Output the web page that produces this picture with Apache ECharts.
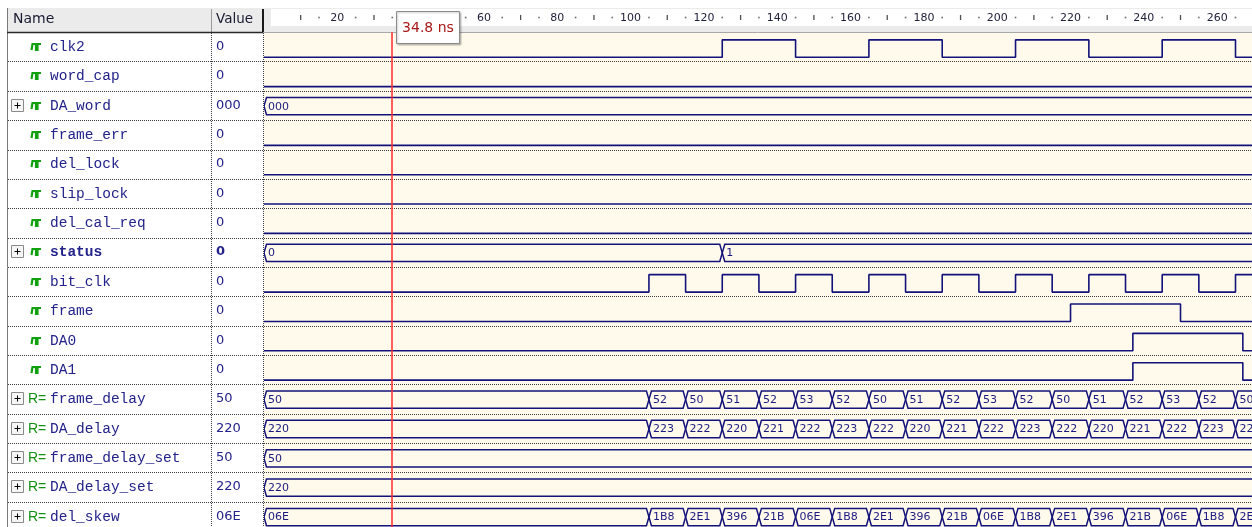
<!DOCTYPE html>
<html>
<head>
<meta charset="utf-8">
<title>Waveform</title>
<script src="https://cdn.jsdelivr.net/npm/echarts@6.0.0/dist/echarts.min.js"></script>
<style>
  html, body { margin: 0; padding: 0; background: #ffffff; }
  #chart { width: 1252px; height: 527px; }
</style>
</head>
<body>
<div id="chart"></div>
<script>
// signal list, top to bottom
const signalNames = ['clk2', 'word_cap', 'DA_word', 'frame_err', 'del_lock', 'slip_lock', 'del_cal_req', 'status',
  'bit_clk', 'frame', 'DA0', 'DA1', 'frame_delay', 'DA_delay', 'frame_delay_set', 'DA_delay_set', 'del_skew']
const signalKinds = ['bit', 'bit', 'bus', 'bit', 'bit', 'bit', 'bit', 'bus',
  'bit', 'bit', 'bit', 'bit', 'reg', 'reg', 'reg', 'reg', 'reg']
const cursorValues = ['0', '0', '000', '0', '0', '0', '0', '0', '0', '0', '0', '0', '50', '220', '50', '220', '06E']

// single-bit signals: all start low, each entry is a toggle time in ns
const clk2Edges = [125, 145, 165, 185, 205, 225, 245, 265]
const bitClkEdges = [105, 115, 125, 135, 145, 155, 165, 175, 185, 195, 205, 215, 225, 235, 245, 255, 265]
const frameEdges = [220, 250]
const da0Edges = [237, 267]
const da1Edges = [237, 267]
const quietEdges = []

// buses: change times (ns) and the value shown from each time on
const daWordTimes = [0]
const daWordVals = ['000']
const statusTimes = [0, 125]
const statusVals = ['0', '1']
const delayTimes = [0, 105, 115, 125, 135, 145, 155, 165, 175, 185, 195, 205, 215, 225, 235, 245, 255, 265]
const frameDelayVals = ['50', '52', '50', '51', '52', '53', '52', '50', '51', '52', '53', '52', '50', '51', '52', '53', '52', '50']
const daDelayVals = ['220', '223', '222', '220', '221', '222', '223', '222', '220', '221', '222', '223', '222', '220', '221', '222', '223', '222']
const delSkewVals = ['06E', '1B8', '2E1', '396', '21B', '06E', '1B8', '2E1', '396', '21B', '06E', '1B8', '2E1', '396', '21B', '06E', '1B8', '2E1']
const frameDelaySetTimes = [0]
const frameDelaySetVals = ['50']
const daDelaySetTimes = [0]
const daDelaySetVals = ['220']

// time ruler marks (ns)
const rulerTicks = [10, 30, 50, 70, 90, 110, 130, 150, 170, 190, 210, 230, 250]
const rulerDots = [15, 25, 35, 45, 55, 65, 75, 85, 95, 105, 115, 125, 135, 145, 155, 165, 175, 185, 195, 205, 215, 225, 235, 245, 255, 265]
const cursorTime = 34.8

const T_MAX = 269.5
const T_END = 300
const ROW_TOP = 32.35
const ROW_H = 29.35
const Y_MAX = (527 - ROW_TOP) / ROW_H
const HI = 0.255
const LO = 0.85
const BUS_T = 0.22
const BUS_B = 0.81
const WAVE = '#12127a'
const TEXT = '#22228a'

const bitTraces = [
  { row: 0, edges: clk2Edges },
  { row: 1, edges: quietEdges },
  { row: 3, edges: quietEdges },
  { row: 4, edges: quietEdges },
  { row: 5, edges: quietEdges },
  { row: 6, edges: quietEdges },
  { row: 8, edges: bitClkEdges },
  { row: 9, edges: frameEdges },
  { row: 10, edges: da0Edges },
  { row: 11, edges: da1Edges },
]

const busTraces = [
  { row: 2, times: daWordTimes, vals: daWordVals },
  { row: 7, times: statusTimes, vals: statusVals },
  { row: 12, times: delayTimes, vals: frameDelayVals },
  { row: 13, times: delayTimes, vals: daDelayVals },
  { row: 14, times: frameDelaySetTimes, vals: frameDelaySetVals },
  { row: 15, times: daDelaySetTimes, vals: daDelaySetVals },
  { row: 16, times: delayTimes, vals: delSkewVals },
]

const stepPoints = (row, edges) => {
  let level = 0
  const pts = [[0, row + LO]]
  edges.forEach((t) => {
    level = 1 - level
    pts.push([t, row + (level ? HI : LO)])
  })
  pts.push([T_MAX, row + (level ? HI : LO)])
  return pts
}

const busSegments = []
const busLabels = []
busTraces.forEach((bus) => {
  bus.times.forEach((t, i) => {
    const end = i + 1 < bus.times.length ? bus.times[i + 1] : T_END
    busSegments.push([t, end, bus.row])
    busLabels.push(bus.vals[i])
  })
})

const renderBus = (params, api) => {
  const t0 = api.value(0)
  const t1 = api.value(1)
  const row = api.value(2)
  const a = api.coord([t0, row + BUS_T])
  const b = api.coord([t1, row + BUS_B])
  const s = 2.5
  const yt = a[1]
  const yb = b[1]
  const ym = (yt + yb) / 2
  return {
    type: 'group',
    children: [
      {
        type: 'polygon',
        shape: { points: [[a[0], ym], [a[0] + s, yt], [b[0] - s, yt], [b[0], ym], [b[0] - s, yb], [a[0] + s, yb]] },
        style: { fill: 'none', stroke: WAVE, lineWidth: 1.5 },
      },
      {
        type: 'text',
        style: {
          x: a[0] + s + 1.5,
          y: ym + 0.5,
          text: busLabels[params.dataIndex],
          fill: '#1a1a80',
          font: '11px "DejaVu Sans"',
          verticalAlign: 'middle',
          align: 'left',
        },
      },
    ],
  }
}

const renderName = (params, api) => {
  const i = params.dataIndex
  const p = api.coord([0, api.value(1) + 0.5])
  const x = p[0]
  const y = Math.round(p[1])
  const kind = signalKinds[i]
  const kids = []
  if (kind !== 'bit') {
    kids.push({ type: 'rect', shape: { x: x + 3.5, y: y - 6.5, width: 12, height: 12 }, style: { fill: '#f6f6f6', stroke: '#8a8a8a', lineWidth: 1 } })
    kids.push({ type: 'line', shape: { x1: x + 6.5, y1: y - 0.5, x2: x + 12.5, y2: y - 0.5 }, style: { stroke: '#000', lineWidth: 1 } })
    kids.push({ type: 'line', shape: { x1: x + 9.5, y1: y - 3.5, x2: x + 9.5, y2: y + 2.5 }, style: { stroke: '#000', lineWidth: 1 } })
  }
  if (kind === 'reg') {
    kids.push({ type: 'text', style: { x: x + 20, y: y, text: 'R=', fill: '#149014', font: '14px "Liberation Sans"', verticalAlign: 'middle', align: 'left' } })
  } else {
    kids.push({
      type: 'polyline',
      shape: { points: [[x + 23.5, y + 3], [x + 24.5, y - 3], [x + 28, y - 3], [x + 28, y + 3], [x + 29.5, y + 3], [x + 29.5, y - 3], [x + 33, y - 3]] },
      style: { stroke: '#10a010', lineWidth: 2.2, fill: 'none' },
    })
  }
  const bold = signalNames[i] === 'status'
  kids.push({
    type: 'text',
    style: { x: x + 42, y: y, text: signalNames[i], fill: TEXT, font: (bold ? 'bold ' : '') + '14.5px "Liberation Mono"', verticalAlign: 'middle', align: 'left' },
  })
  kids.push({
    type: 'text',
    style: { x: x + 208, y: y, text: cursorValues[i], fill: TEXT, font: (bold ? 'bold ' : '') + '13px "DejaVu Sans"', verticalAlign: 'middle', align: 'left' },
  })
  return { type: 'group', children: kids }
}

const rowSplit = {
  show: true,
  showMinLine: false,
  showMaxLine: false,
  lineStyle: { color: '#3a3a3a', width: 1, type: [1, 1] },
}

const chart = echarts.init(document.getElementById('chart'))

chart.setOption({
  animation: false,
  backgroundColor: '#ffffff',
  grid: [
    { left: 264, right: 0, top: 9, height: 17 },
    { left: 8, width: 255, top: ROW_TOP, bottom: 0 },
    { left: 264, right: 0, top: ROW_TOP, bottom: 0, show: true, backgroundColor: '#fffaeb', borderWidth: 0 },
  ],
  xAxis: [
    {
      gridIndex: 0,
      type: 'value',
      min: 0,
      max: T_MAX,
      interval: 20,
      position: 'bottom',
      axisLine: { show: false },
      axisTick: { show: false },
      splitLine: { show: false },
      axisLabel: {
        inside: true,
        margin: 2,
        showMaxLabel: false,
        fontSize: 11,
        fontFamily: 'DejaVu Sans',
        color: '#22223c',
        formatter: (v) => (v > 0 && v % 20 === 0 ? String(v) : ''),
      },
    },
    { gridIndex: 1, type: 'value', min: 0, max: 255, show: false },
    { gridIndex: 2, type: 'value', min: 0, max: T_MAX, show: false },
  ],
  yAxis: [
    { gridIndex: 0, type: 'value', min: 0, max: 1, show: false },
    {
      gridIndex: 1, type: 'value', inverse: true, min: 0, max: Y_MAX, interval: 1,
      axisLine: { show: false }, axisTick: { show: false }, axisLabel: { show: false }, splitLine: rowSplit,
    },
    {
      gridIndex: 2, type: 'value', inverse: true, min: 0, max: Y_MAX, interval: 1,
      axisLine: { show: false }, axisTick: { show: false }, axisLabel: { show: false }, splitLine: rowSplit,
    },
  ],
  series: [
    {
      type: 'scatter',
      xAxisIndex: 0,
      yAxisIndex: 0,
      silent: true,
      symbol: 'rect',
      symbolSize: [1.3, 5],
      itemStyle: { color: '#222' },
      data: rulerTicks.map((t) => [t, 0.5]),
    },
    {
      type: 'scatter',
      xAxisIndex: 0,
      yAxisIndex: 0,
      silent: true,
      symbol: 'rect',
      symbolSize: [1.6, 1.6],
      itemStyle: { color: '#444' },
      data: rulerDots.map((t) => [t, 0.5]),
    },
    {
      type: 'custom',
      xAxisIndex: 1,
      yAxisIndex: 1,
      silent: true,
      renderItem: renderName,
      data: signalNames.map((n, i) => [0, i]),
    },
    {
      type: 'custom',
      xAxisIndex: 2,
      yAxisIndex: 2,
      silent: true,
      clip: true,
      renderItem: renderBus,
      data: busSegments,
      z: 3,
    },
    ...bitTraces.map((trace, k) => ({
      type: 'line',
      xAxisIndex: 2,
      yAxisIndex: 2,
      step: 'end',
      silent: true,
      showSymbol: false,
      symbol: 'none',
      lineStyle: { color: WAVE, width: 1.6 },
      data: stepPoints(trace.row, trace.edges),
      z: 3,
      markLine: k === 0 ? {
        silent: true,
        symbol: ['none', 'none'],
        label: { show: false },
        lineStyle: { color: '#ff2a2a', width: 1.5, type: 'solid' },
        data: [{ xAxis: cursorTime }],
        z: 5,
      } : undefined,
    })),
  ],
})

const cursorX = Math.round(chart.convertToPixel({ xAxisIndex: 2 }, cursorTime))

chart.setOption({
  graphic: [
    { type: 'rect', z: -10, shape: { x: 7, y: 8, width: 1245, height: 24 }, style: { fill: '#ebebeb' } },
    { type: 'rect', z: -9, shape: { x: 271, y: 9, width: 981, height: 17 }, style: { fill: '#ffffff' } },
    { type: 'line', z: 1, shape: { x1: 7.5, y1: 8, x2: 7.5, y2: 527 }, style: { stroke: '#7a7a7a', lineWidth: 1 } },
    { type: 'line', z: 1, shape: { x1: 211.5, y1: 9, x2: 211.5, y2: 32 }, style: { stroke: '#9a9a9a', lineWidth: 1 } },
    { type: 'line', z: 1, shape: { x1: 263, y1: 9, x2: 263, y2: 32 }, style: { stroke: '#1a1a1a', lineWidth: 2 } },
    { type: 'line', z: 1, shape: { x1: 7, y1: 32.5, x2: 263, y2: 32.5 }, style: { stroke: '#2a2a2a', lineWidth: 1.5 } },
    { type: 'line', z: 1, shape: { x1: 263, y1: 32.5, x2: 1252, y2: 32.5 }, style: { stroke: '#a8a8a8', lineWidth: 1 } },
    { type: 'line', z: 1, shape: { x1: 211.5, y1: 33, x2: 211.5, y2: 527 }, style: { stroke: '#3a3a3a', lineWidth: 1, lineDash: [1, 1] } },
    { type: 'line', z: 1, shape: { x1: 263.5, y1: 33, x2: 263.5, y2: 527 }, style: { stroke: '#3a3a3a', lineWidth: 1, lineDash: [1, 1] } },
    { type: 'text', z: 1, style: { x: 13, y: 19, text: 'Name', fill: '#1a1a30', font: '14px "DejaVu Sans"', verticalAlign: 'middle' } },
    { type: 'text', z: 1, style: { x: 216, y: 19, text: 'Value', fill: '#1a1a30', font: '13.5px "DejaVu Sans"', verticalAlign: 'middle' } },
    {
      type: 'rect',
      zlevel: 1,
      z: 50,
      shape: { x: cursorX + 4.5, y: 11.5, width: 63, height: 32 },
      style: { fill: '#ffffff', stroke: '#8c8c8c', lineWidth: 1, shadowBlur: 2, shadowOffsetX: 1, shadowOffsetY: 1, shadowColor: 'rgba(0,0,0,0.25)' },
    },
    {
      type: 'text',
      zlevel: 1,
      z: 51,
      style: { x: cursorX + 36, y: 28.5, text: '34.8 ns', fill: '#a81818', font: '14px "DejaVu Sans"', align: 'center', verticalAlign: 'middle' },
    },
  ],
})

window.addEventListener('resize', () => chart.resize())
</script>
</body>
</html>
